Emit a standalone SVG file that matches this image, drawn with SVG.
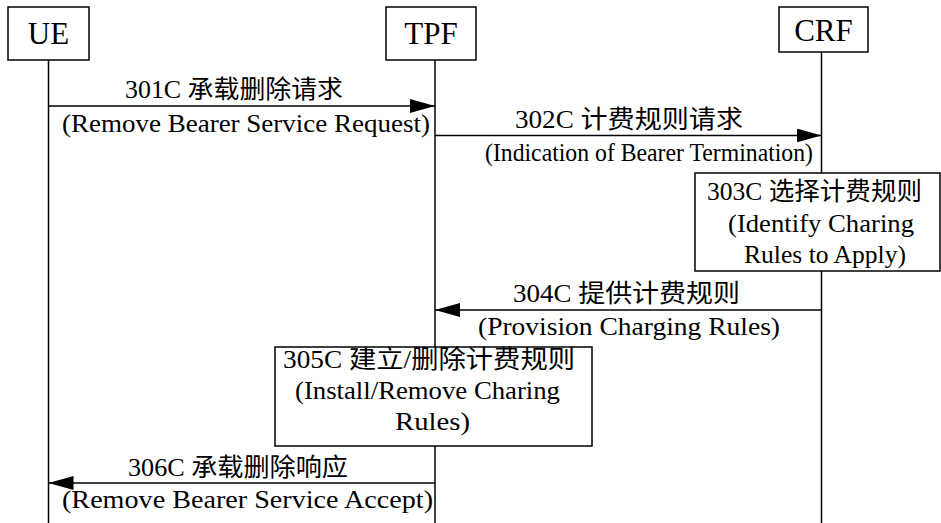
<svg xmlns="http://www.w3.org/2000/svg" width="941" height="523" viewBox="0 0 941 523">
<style>
text{font-family:"Liberation Serif","Noto Sans CJK SC",serif;fill:#000;}
.t{font-size:31px;text-anchor:middle;}
.l{font-size:25px;}
.box{fill:#fff;stroke:#000;stroke-width:1.5;}
.life{stroke:#000;stroke-width:1.5;fill:none;}
.msg{stroke:#000;stroke-width:1.5;fill:none;}
</style>
<defs>
<marker id="ah" markerUnits="userSpaceOnUse" markerWidth="26" markerHeight="14" refX="25" refY="7" orient="auto">
<path d="M0,0 L25,7 L0,14 Z" fill="#000"/>
</marker>
</defs>
<g id="lifelines">
<line class="life" x1="48.5" y1="60" x2="48.5" y2="523"/>
<line class="life" x1="435" y1="60" x2="435" y2="523"/>
<line class="life" x1="821.5" y1="52" x2="821.5" y2="523"/>
</g>
<g id="UE">
<rect class="box" x="8" y="7" width="81" height="53"/>
<text class="t" x="48.5" y="44">UE</text>
</g>
<g id="TPF">
<rect class="box" x="386" y="7" width="90" height="53"/>
<text class="t" x="431" y="44">TPF</text>
</g>
<g id="CRF">
<rect class="box" x="779" y="7" width="89" height="45"/>
<text class="t" x="823.5" y="41">CRF</text>
</g>
<g id="connectors">
<line class="msg" x1="48.5" y1="106" x2="435" y2="106" marker-end="url(#ah)"/>
<line class="msg" x1="435" y1="135.5" x2="821.5" y2="135.5" marker-end="url(#ah)"/>
<line class="msg" x1="821.5" y1="310" x2="435" y2="310" marker-end="url(#ah)"/>
<line class="msg" x1="435" y1="483" x2="48.5" y2="483" marker-end="url(#ah)"/>
</g>
<g id="labels">
<text class="l" x="125" y="98" textLength="218" lengthAdjust="spacingAndGlyphs">301C 承载删除请求</text>
<text class="l" x="62" y="132" textLength="368" lengthAdjust="spacingAndGlyphs">(Remove Bearer Service Request)</text>
<text class="l" x="515" y="128" textLength="228" lengthAdjust="spacingAndGlyphs">302C 计费规则请求</text>
<text class="l" x="485" y="161" textLength="328" lengthAdjust="spacingAndGlyphs">(Indication of Bearer Termination)</text>
<text class="l" x="513" y="302" textLength="227" lengthAdjust="spacingAndGlyphs">304C 提供计费规则</text>
<text class="l" x="478" y="335" textLength="302" lengthAdjust="spacingAndGlyphs">(Provision Charging Rules)</text>
<text class="l" x="128" y="476" textLength="220" lengthAdjust="spacingAndGlyphs">306C 承载删除响应</text>
<text class="l" x="62" y="508" textLength="371" lengthAdjust="spacingAndGlyphs">(Remove Bearer Service Accept)</text>
</g>
<g id="n303C">
<rect class="box" x="695" y="173" width="245" height="98"/>
<text class="l" x="707" y="200" textLength="215" lengthAdjust="spacingAndGlyphs">303C 选择计费规则</text>
<text class="l" x="728" y="232" textLength="186" lengthAdjust="spacingAndGlyphs">(Identify Charing</text>
<text class="l" x="744" y="263" textLength="162" lengthAdjust="spacingAndGlyphs">Rules to Apply)</text>
</g>
<g id="n305C">
<rect class="box" x="275" y="347" width="317" height="99"/>
<text class="l" x="283" y="368" textLength="292" lengthAdjust="spacingAndGlyphs">305C 建立/删除计费规则</text>
<text class="l" x="295" y="399" textLength="265" lengthAdjust="spacingAndGlyphs">(Install/Remove Charing</text>
<text class="l" x="395" y="430" textLength="75" lengthAdjust="spacingAndGlyphs">Rules)</text>
</g>
</svg>
